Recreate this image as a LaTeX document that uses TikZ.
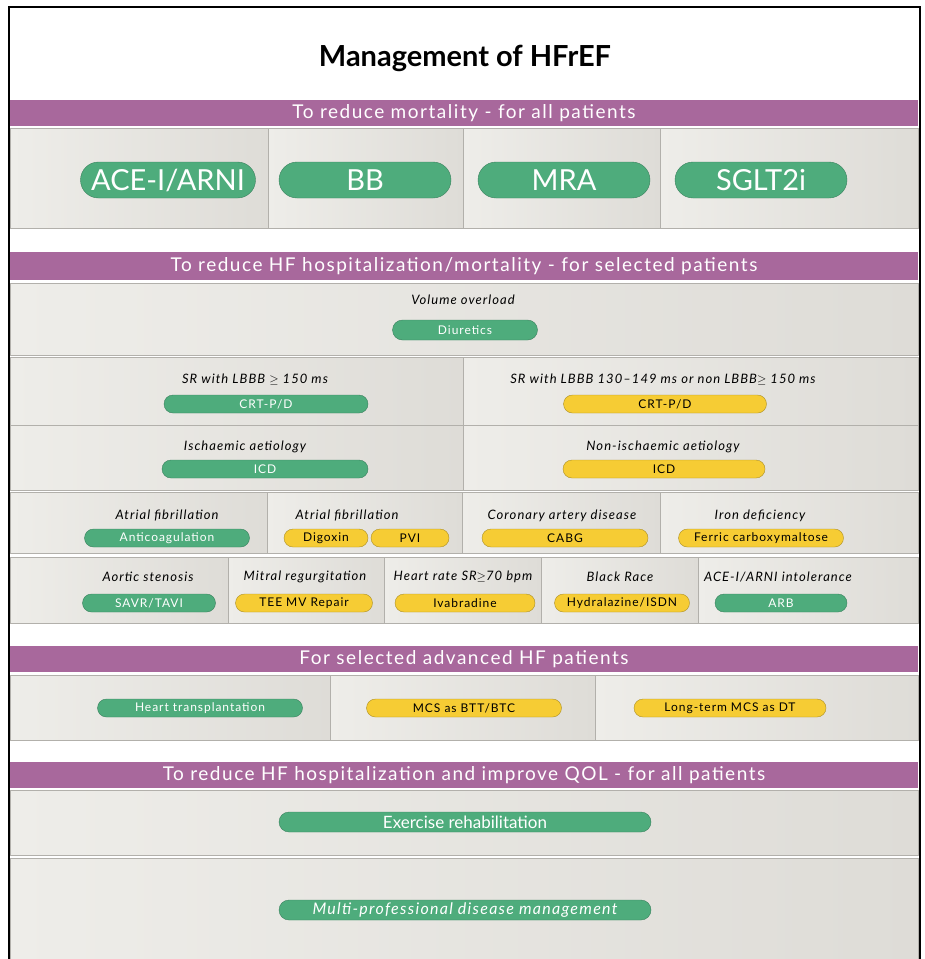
\documentclass[tikz,border=0pt]{standalone}
\usepackage{fontspec}
\setmainfont{Lato}
\usetikzlibrary{shapes.misc}
\definecolor{barcol}{RGB}{168,104,156}
\definecolor{pgreen}{RGB}{78,172,124}
\definecolor{pyellow}{RGB}{246,204,52}
\definecolor{cellA}{RGB}{238,237,233}
\definecolor{cellB}{RGB}{222,220,215}
\definecolor{edge}{RGB}{178,176,171}

\begin{document}
\begin{tikzpicture}[x=1pt,y=-1pt]
\tikzstyle{bar}=[fill=barcol]
\tikzstyle{cell}=[left color=cellA,right color=cellB,draw=edge,line width=1pt]
\tikzstyle{bartxt}=[text=white,font=\fontsize{19}{19}\selectfont\addfontfeature{LetterSpace=8}]
\tikzstyle{lbl}=[font=\fontsize{13}{13}\selectfont\itshape\addfontfeature{LetterSpace=8}]
\tikzstyle{gpill}=[rounded rectangle,fill=pgreen,draw=pgreen!75!black,text=white,inner sep=0pt,minimum height=18pt,font=\fontsize{12}{12}\selectfont\addfontfeature{LetterSpace=8}]
\tikzstyle{ypill}=[rounded rectangle,fill=pyellow,draw=pyellow!70!black,text=black,inner sep=0pt,minimum height=18pt,font=\fontsize{12}{12}\selectfont\addfontfeature{LetterSpace=8}]
\tikzstyle{big}=[minimum height=36pt,font=\fontsize{29}{29}\selectfont]

\useasboundingbox (0,0) rectangle (925,959);
\fill[white] (0,0) rectangle (925,959);

\node[font=\fontsize{29}{29}\selectfont\bfseries] (title) at (465,58) {Management of HFrEF};

% to reduce mortality
\fill[bar] (10,100) rectangle (918,126);
\node[bartxt] (m) at (464,113) {To reduce mortality - for all patients};
\shade[cell] (10,128) rectangle (268,228);
\shade[cell] (268,128) rectangle (463,228);
\shade[cell] (463,128) rectangle (660,228);
\shade[cell] (660,128) rectangle (918,228);
\node[gpill,big,minimum width=175] (ace) at (168,180) {ACE-I/ARNI};
\node[gpill,big,minimum width=172] (bb) at (365,180) {BB};
\node[gpill,big,minimum width=172] (mra) at (564,180) {MRA};
\node[gpill,big,minimum width=172] (sglt) at (761,180) {SGLT2i};

% to reduce hospitalization/mortality
\fill[bar] (10,252) rectangle (918,280);
\node[bartxt] (s) at (464,266) {To reduce HF hospitalization/mortality - for selected patients};
\shade[cell] (10,283) rectangle (918,355);
\node[lbl] (vo) at (463,300) {Volume overload};
\node[gpill,minimum width=145,minimum height=20] (diu) at (465,330) {Diuretics};

\shade[cell] (10,357) rectangle (463,425);
\shade[cell] (463,357) rectangle (918,425);
\node[lbl] (sr1) at (255,380) {SR with LBBB $\geq$ 150 ms};
\node[gpill,minimum width=204] (crt1) at (266,404) {CRT-P/D};
\node[lbl] (sr2) at (663,380) {SR with LBBB 130--149 ms or non LBBB$\geq$ 150 ms};
\node[ypill,minimum width=203] (crt2) at (665,404) {CRT-P/D};

\shade[cell] (10,425) rectangle (463,490);
\shade[cell] (463,425) rectangle (918,490);
\node[lbl] (isch) at (245,447) {Ischaemic aetiology};
\node[gpill,minimum width=206] (icd1) at (265,469) {ICD};
\node[lbl] (nisch) at (663,447) {Non-ischaemic aetiology};
\node[ypill,minimum width=202] (icd2) at (664,469) {ICD};

\shade[cell] (10,492) rectangle (267,553);
\shade[cell] (267,492) rectangle (462,553);
\shade[cell] (462,492) rectangle (660,553);
\shade[cell] (660,492) rectangle (918,553);
\node[lbl] (af1) at (167,516) {Atrial fibrillation};
\node[gpill,minimum width=165] (anti) at (167,538) {Anticoagulation};
\node[lbl] (af2) at (347,516) {Atrial fibrillation};
\node[ypill,minimum width=84] (dig) at (326,538) {Digoxin};
\node[ypill,minimum width=78] (pvi) at (410,538) {PVI};
\node[lbl] (cad) at (562,516) {Coronary artery disease};
\node[ypill,minimum width=166] (cabg) at (565,538) {CABG};
\node[lbl] (iron) at (760,516) {Iron deficiency};
\node[ypill,minimum width=165] (fcm) at (761,538) {Ferric carboxymaltose};

\shade[cell] (10,557) rectangle (228,623);
\shade[cell] (228,557) rectangle (384,623);
\shade[cell] (384,557) rectangle (541,623);
\shade[cell] (541,557) rectangle (698,623);
\shade[cell] (698,557) rectangle (918,623);
\node[lbl] (as) at (148,577) {Aortic stenosis};
\node[gpill,minimum width=133] (savr) at (149,603) {SAVR/TAVI};
\node[lbl] (mr) at (305,577) {Mitral regurgitation};
\node[ypill,minimum width=137] (tee) at (304,603) {TEE MV Repair};
\node[lbl] (hr) at (463,577) {Heart rate SR$\geq$70 bpm};
\node[ypill,minimum width=140] (iva) at (465,603) {Ivabradine};
\node[lbl] (race) at (620,577) {Black Race};
\node[ypill,minimum width=135] (hyd) at (622,603) {Hydralazine/ISDN};
\node[lbl] (intol) at (778,577) {ACE-I/ARNI intolerance};
\node[gpill,minimum width=132] (arb) at (781,603) {ARB};

% advanced HF
\fill[bar] (10,646) rectangle (918,672);
\node[bartxt] (a) at (464,659) {For selected advanced HF patients};
\shade[cell] (10,675) rectangle (330,740);
\shade[cell] (330,675) rectangle (595,740);
\shade[cell] (595,675) rectangle (918,740);
\node[gpill,minimum width=205] (htx) at (200,708) {Heart transplantation};
\node[ypill,minimum width=195] (btt) at (464,708) {MCS as BTT/BTC};
\node[ypill,minimum width=192] (dt) at (730,708) {Long-term MCS as DT};

% QOL
\fill[bar] (10,762) rectangle (918,788);
\node[bartxt] (q) at (464,775) {To reduce HF hospitalization and improve QOL - for all patients};
\shade[cell] (10,790) rectangle (918,855);
\node[gpill,minimum width=372,minimum height=20,font=\fontsize{17}{17}\selectfont] (ex) at (465,822) {Exercise rehabilitation};
\shade[cell] (10,858) rectangle (918,965);
\node[gpill,minimum width=372,minimum height=20,font=\fontsize{16}{16}\selectfont\itshape\addfontfeature{LetterSpace=8}] (mdm) at (465,910) {Multi-professional disease management};

\draw[line width=1.5pt] (9,959) -- (9,7) -- (920,7) -- (920,959);
\end{tikzpicture}
\end{document}
